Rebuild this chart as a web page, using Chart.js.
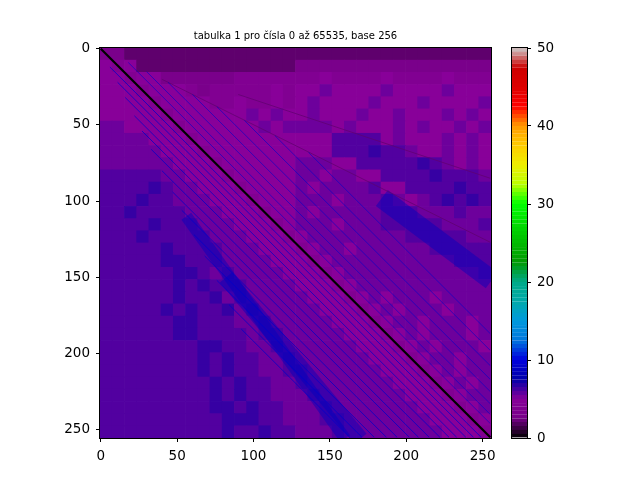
<!DOCTYPE html>
<html>
<head>
<meta charset="utf-8">
<script src="https://cdn.jsdelivr.net/npm/chart.js@4.4.1/dist/chart.umd.min.js"></script>
<style>
  html, body { margin: 0; padding: 0; background: #fff; }
  #wrap { position: relative; width: 640px; height: 480px; }
  #wrap canvas { position: absolute; left: 0; top: 0; }
</style>
</head>
<body>
<div id="wrap">
  <canvas id="heat" width="640" height="480"></canvas>
  <canvas id="cbar" width="640" height="480"></canvas>
</div>
<script>
// =============================================
// DATA
// =============================================
const TITLE = 'tabulka 1 pro čísla 0 až 65535, base 256';
const BLOCK = 8;   // one character below = one 8x8 block of the 256x256 table
const xTicks = [0, 50, 100, 150, 200, 250];
const yTicks = [0, 50, 100, 150, 200, 250];
const cbarTicks = [0, 10, 20, 30, 40, 50];
const cbarRange = [0, 50];

// block values, in half units (base 36: '8' = 4, 'a' = 5, 'b' = 5.5, 'c' = 6 ...)
// row = y block (top first), column = x block
const rows = [
  '66444444444444444444444444444444',
  'a8a44444444444446666666666666666',
  'aa8aa6666668888888a8888a8888a888',
  'aaa8aaa8688888a8aabaaaabaaaabaaa',
  'aaaa8aaaa88a88a8abaaaabaaabaaaab',
  'aaaaa8aaaaaababaabaaabaabaaababa',
  'bbaaaa8aaaaaababbbbabaaababaabab',
  'bbbbaaa8aaaaaaaaaaaccccabaaababa',
  'bbbbbaaa8aaaaaaaaaacccdccbaababa',
  'bbbbbbaaa8aaaaaabbbaacccccdcbaba',
  'cccccbbaaa8aaaaabbabbaaccccdcccb',
  'ccccdcbbaaa8aaaababbbbcaaccccdcc',
  'cccdccbbbaaa8aaabbbabbbcbabcdcdc',
  'ccdccccbbbaaa8aababbbbbcccbbbcbb',
  'ccccdcccbbbaaa8abbbabbbcccccbbbc',
  'cccdcccccbbbaaa8abbbbbbbbcccccbb',
  'cccccdccccbbbaaa8abbabbbbbbccccc',
  'cccccddcccbbbbaaa8abbbbbbbbbbccc',
  'ccccccddcbcbbbbaaa8abbbbbbbbbbbc',
  'ccccccdcdcccbbbbaaa8abbbbbbbbbbb',
  'ccccccdccdbcbbbbbaaa8ababbbabbbb',
  'cccccdcdccdbcbbbbbaaa8ababbbabbb',
  'ccccccddcccbbcbbbbbaaa8abbabbbab',
  'ccccccddccccbccbbbbbaaa8ababbbab',
  'ccccccccddccbbcbbbbbbaaa8ababbba',
  'ccccccccdcdccbbcbbbbbbaaa8abbabb',
  'ccccccccdcdccbbccbbbbbbaaa8ababb',
  'cccccccccdcdccbbcbbbbbbbaaa8abab',
  'cccccccccdcdccbbbcbbbbbbbaaa8abb',
  'cccccccccddcdccbbbcbbbbbbbaaa8ab',
  'ccccccccccdddccbbbccbbbbbbbaaa8a',
  'ccccccccccdccdccbbbcbbbbbbbbaaa8'
];

// line-like features, in table units: [x0, y0, x1, y1]
const diagonal = [0, 0, 255, 255];
const lowerStripes = [
  [6, 12, 249, 255], [11, 22, 244, 255], [16, 32, 239, 255], [22, 44, 233, 255],
  [27, 54, 228, 255], [33, 66, 222, 255], [40, 80, 215, 255], [47, 94, 208, 255],
  [53, 106, 202, 255], [61, 122, 194, 255], [68, 136, 187, 255], [76, 152, 179, 255],
  [84, 168, 171, 255], [92, 184, 163, 255]
];
const upperStripes = [
  [18, 9, 255, 246], [30, 15, 255, 240], [44, 22, 255, 233], [60, 30, 255, 225],
  [76, 38, 255, 217], [94, 47, 255, 208], [114, 57, 255, 198], [136, 68, 255, 187]
];
const blueBands = [
  [56, 110, 160, 256], [82, 150, 170, 256], [184, 98, 256, 152]
];
const bandWidths = [12, 16, 20];
const darkEdges = [
  [40, 20, 255, 127], [90, 30, 255, 85]
];

// =============================================
// COLORMAP (nipy_spectral)
// =============================================
const CMAP = [
  [0.00, 0, 0, 0], [0.05, 0.4667, 0, 0.5333], [0.10, 0.5333, 0, 0.6],
  [0.15, 0, 0, 0.6667], [0.20, 0, 0, 0.8667], [0.25, 0, 0.4667, 0.8667],
  [0.30, 0, 0.6, 0.8667], [0.35, 0, 0.6667, 0.6667], [0.40, 0, 0.6667, 0.5333],
  [0.45, 0, 0.6, 0], [0.50, 0, 0.7333, 0], [0.55, 0, 0.8667, 0], [0.60, 0, 1, 0],
  [0.65, 0.7333, 1, 0], [0.70, 0.9333, 0.9333, 0], [0.75, 1, 0.8, 0],
  [0.80, 1, 0.6, 0], [0.85, 1, 0, 0], [0.90, 0.8667, 0, 0], [0.95, 0.8, 0, 0],
  [1.00, 0.8, 0.8, 0.8]
];

function cmap(v, alpha = 1) {
  const t = Math.min(1, Math.max(0, (v - cbarRange[0]) / (cbarRange[1] - cbarRange[0])));
  let i = 0;
  while (i < CMAP.length - 2 && t > CMAP[i + 1][0]) i++;
  const a = CMAP[i], b = CMAP[i + 1];
  const f = (t - a[0]) / (b[0] - a[0]);
  const ch = k => Math.round((a[k] + (b[k] - a[k]) * f) * 255);
  return `rgba(${ch(1)},${ch(2)},${ch(3)},${alpha})`;
}

// =============================================
// HELPERS
// =============================================
const FONT = 'DejaVu Sans';
Chart.defaults.font.family = FONT;
Chart.defaults.color = '#000';

const frame = {
  id: 'frame',
  afterDraw(chart) {
    const a = chart.chartArea, ctx = chart.ctx;
    ctx.save();
    ctx.strokeStyle = '#000';
    ctx.lineWidth = 1;
    ctx.strokeRect(Math.round(a.left) - 0.5, Math.round(a.top) - 0.5,
      Math.round(a.right - a.left) + 1, Math.round(a.bottom - a.top) + 1);
    ctx.restore();
  }
};

function segment(s, color, width, order) {
  return {
    data: [{ x: s[0], y: s[1] }, { x: s[2], y: s[3] }],
    showLine: true, pointRadius: 0, borderColor: color, borderWidth: width,
    borderCapStyle: 'butt', order
  };
}

function tickAxis(ticks, extra) {
  return Object.assign({
    type: 'linear',
    afterBuildTicks: s => { s.ticks = ticks.map(v => ({ value: v })); },
    ticks: { font: { size: 13.5 }, color: '#000', padding: 6, maxRotation: 0, autoSkip: false },
    grid: { drawOnChartArea: false, tickLength: 4, color: '#000', tickColor: '#000' },
    border: { display: true, color: '#000' }
  }, extra);
}

// =============================================
// HEATMAP
// =============================================
rows.forEach((r, i) => { if (r.length !== 32) console.warn('row', i, 'has', r.length); });

const cells = [];
const cellColors = [];
rows.forEach((row, r) => {
  [...row].forEach((ch, c) => {
    const v = parseInt(ch, 36) / 2;
    cells.push({ x: c * BLOCK + (BLOCK - 1) / 2, y: r * BLOCK + (BLOCK - 1) / 2, v });
    cellColors.push(cmap(v));
  });
});

const heatDs = {
  data: cells,
  pointStyle: 'rect',
  backgroundColor: cellColors,
  borderWidth: 0,
  pointRadius: ctx => {
    const s = ctx.chart.scales.x;
    const side = Math.abs(s.getPixelForValue(BLOCK) - s.getPixelForValue(0));
    return (side + 0.7) / Math.SQRT2;
  },
  order: 5
};

const datasets = [
  segment(diagonal, '#000', 2.2, 1),
  ...lowerStripes.map(s => segment(s, cmap(9, 0.75), 1, 2)),
  ...upperStripes.map(s => segment(s, cmap(9, 0.6), 1, 2)),
  ...darkEdges.map(s => segment(s, cmap(2, 0.7), 1, 3)),
  ...blueBands.map((s, i) => segment(s, cmap(8.5, 0.45), bandWidths[i], 4)),
  heatDs
];

new Chart(document.getElementById('heat'), {
  type: 'scatter',
  data: { datasets },
  options: {
    responsive: false,
    animation: false,
    events: [],
    layout: { padding: { left: 0, right: 149, top: 0, bottom: 0 } },
    plugins: {
      legend: { display: false },
      tooltip: { enabled: false },
      title: {
        display: true, text: TITLE, fullSize: false, color: '#000',
        font: { family: FONT, size: 10, weight: 'normal' },
        padding: { top: 30, bottom: 6 }
      }
    },
    scales: {
      x: tickAxis(xTicks, { min: -0.5, max: 255.5, position: 'bottom', afterFit: s => { s.height = 42; } }),
      y: tickAxis(yTicks, { min: -0.5, max: 255.5, reverse: true, position: 'left', afterFit: s => { s.width = 100; } })
    }
  },
  plugins: [frame]
});

// =============================================
// COLORBAR
// =============================================
const cbarLevels = [];
for (let v = cbarRange[0]; v < cbarRange[1]; v += 0.5) cbarLevels.push(v);

new Chart(document.getElementById('cbar'), {
  type: 'bar',
  data: {
    labels: ['cb'],
    datasets: cbarLevels.map(v => ({
      data: [0.5],
      backgroundColor: cmap(v + 0.25),
      borderColor: cmap(v + 0.25),
      borderWidth: 0.6,
      barPercentage: 1,
      categoryPercentage: 1
    }))
  },
  options: {
    responsive: false,
    animation: false,
    events: [],
    layout: { padding: { left: 512, right: 73, top: 48, bottom: 42 } },
    plugins: { legend: { display: false }, tooltip: { enabled: false } },
    scales: {
      x: { stacked: true, display: false },
      y: tickAxis(cbarTicks, {
        stacked: true, min: cbarRange[0], max: cbarRange[1], position: 'right',
        afterFit: s => { s.width = 40; }
      })
    }
  },
  plugins: [frame]
});
</script>
</body>
</html>
